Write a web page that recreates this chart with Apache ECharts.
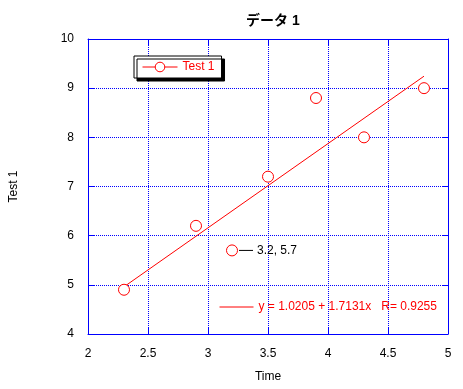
<!DOCTYPE html>
<html><head><meta charset="utf-8">
<script src="https://cdn.jsdelivr.net/npm/echarts@6/dist/echarts.min.js"></script>
<style>html,body{margin:0;padding:0;background:#fff}#c{width:463px;height:389px}</style>
</head><body><div id="c"></div>
<script>
var timeValues = [2.3, 2.9, 3.2, 3.5, 3.9, 4.3, 4.8];
var test1Values = [4.9, 6.2, 5.7, 7.2, 8.8, 8.0, 9.0];
var fitIntercept = 1.0205;
var fitSlope = 1.7131;
var fitR = 0.9255;
var fitRange = [2.3, 4.8];
var annotatedIndex = 2;

var BLUE = '#0000ff', RED = '#ff0000';
var FONT = 'Arial, "Liberation Sans", "Noto Sans CJK JP", sans-serif';
var eqText = 'y = ' + fitIntercept.toFixed(4) + ' + ' + fitSlope.toFixed(4) + 'x   R= ' + fitR.toFixed(4);

var pts = timeValues.map(function (x, i) {
  var item = { value: [x, test1Values[i]] };
  if (i === annotatedIndex) {
    item.label = {
      show: true, position: 'right', distance: 1,
      formatter: '{l|}{t|' + x + ', ' + test1Values[i] + '}',
      rich: {
        l: { width: 14, height: 1, backgroundColor: '#000' },
        t: { color: '#000', fontSize: 12, fontFamily: FONT, padding: [0, 0, 0, 4] }
      }
    };
  }
  return item;
});
var fitData = fitRange.map(function (x) { return [x, fitIntercept + fitSlope * x]; });

function xAx(pos, showLabel) {
  return {
    type: 'value', position: pos, min: 2, max: 5, interval: 0.5,
    axisLine: { show: true, onZero: false, lineStyle: { color: BLUE, width: 1 } },
    axisTick: { show: true, inside: true, length: 6, lineStyle: { color: BLUE } },
    axisLabel: { show: showLabel, color: '#000', fontSize: 12, fontFamily: FONT, margin: 14 },
    splitLine: { show: showLabel, lineStyle: { color: BLUE, type: 'dotted', width: 1 } },
    name: showLabel ? 'Time' : '', nameLocation: 'middle', nameGap: 37,
    nameTextStyle: { color: '#000', fontSize: 12, fontFamily: FONT }
  };
}
function yAx(pos, showLabel) {
  return {
    type: 'value', position: pos, min: 4, max: 10, interval: 1,
    axisLine: { show: true, onZero: false, lineStyle: { color: BLUE, width: 1 } },
    axisTick: { show: true, inside: true, length: 6, lineStyle: { color: BLUE } },
    axisLabel: { show: showLabel, color: '#000', fontSize: 12, fontFamily: FONT, margin: 14 },
    splitLine: { show: showLabel, lineStyle: { color: BLUE, type: 'dotted', width: 1 } },
    name: showLabel ? 'Test 1' : '', nameLocation: 'middle', nameGap: 68,
    nameTextStyle: { color: '#000', fontSize: 12, fontFamily: FONT }
  };
}

var chart = echarts.init(document.getElementById('c'));
chart.setOption({
  animation: false,
  backgroundColor: '#fff',
  title: {
    text: 'データ 1', left: 241, top: 9,
    textStyle: { color: '#000', fontSize: 14, fontWeight: 'bold', fontFamily: FONT }
  },
  grid: { left: 88, top: 39, width: 360, height: 295, containLabel: false },
  xAxis: [xAx('bottom', true), xAx('top', false)],
  yAxis: [yAx('left', true), yAx('right', false)],
  legend: [
    {
      data: ['Test 1'], left: 134, top: 56, orient: 'horizontal',
      backgroundColor: '#fff', borderColor: '#000', borderWidth: 1,
      padding: [5, 7, 5, 8], itemWidth: 35, itemHeight: 12,
      shadowColor: '#000', shadowBlur: 0, shadowOffsetX: 3, shadowOffsetY: 3,
      textStyle: { color: RED, fontSize: 12, fontFamily: FONT },
      lineStyle: { color: RED, width: 1, opacity: 1 },
      itemStyle: { color: '#fff', borderColor: RED, borderWidth: 1 },
      selectedMode: false
    },
    {
      data: [eqText], left: 219, top: 301, orient: 'horizontal',
      padding: 0, itemWidth: 34, itemHeight: 12,
      textStyle: { color: RED, fontSize: 12, fontFamily: FONT },
      lineStyle: { color: RED, width: 1, opacity: 1 },
      itemStyle: { opacity: 0 },
      selectedMode: false
    }
  ],
  series: [
    {
      name: 'Test 1', type: 'line', data: pts,
      symbol: 'circle', symbolSize: 11,
      itemStyle: { color: '#fff', borderColor: RED, borderWidth: 1 },
      lineStyle: { opacity: 0, width: 0 },
      z: 3
    },
    {
      name: eqText, type: 'line', data: fitData,
      symbol: 'none', showSymbol: false,
      lineStyle: { color: RED, width: 1 }, itemStyle: { color: RED },
      z: 2
    }
  ]
});
</script></body></html>
